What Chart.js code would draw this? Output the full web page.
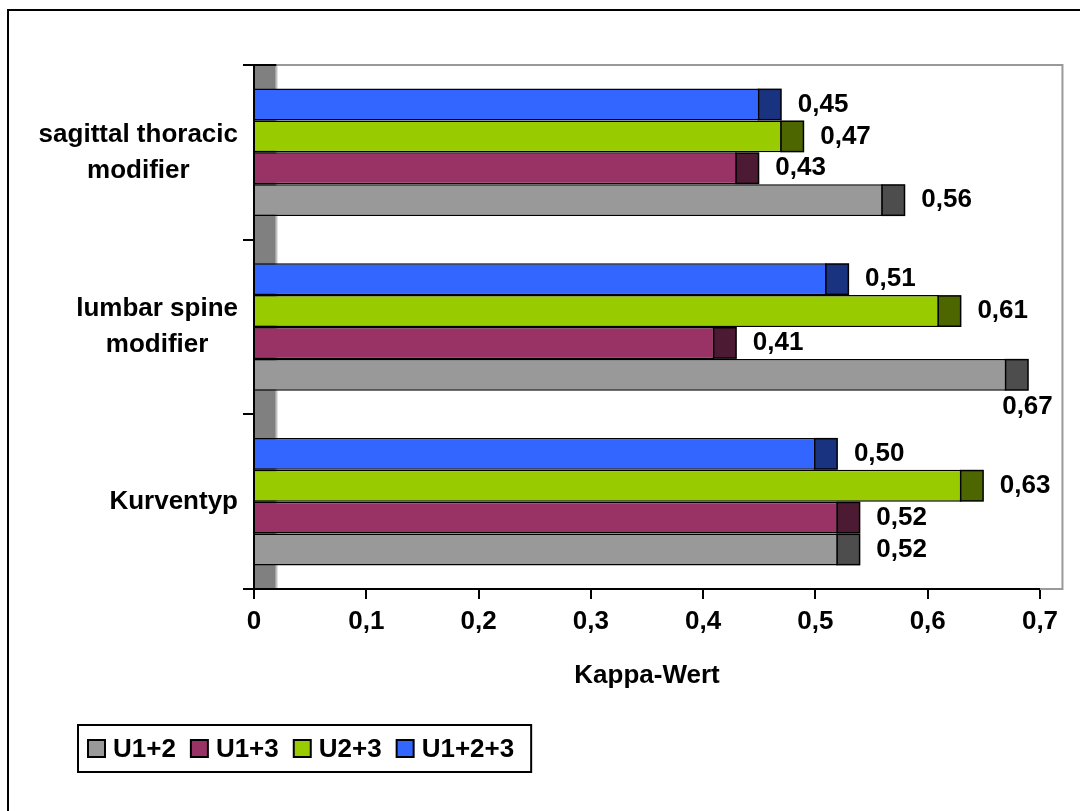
<!DOCTYPE html>
<html>
<head>
<meta charset="utf-8">
<script src="https://cdn.jsdelivr.net/npm/chart.js@4/dist/chart.umd.min.js"></script>
<style>
    html, body { margin: 0; padding: 0; background: #fff; }
    canvas { display: block; }
</style>
</head>
<body>
<canvas id="kappa-chart" width="1080" height="811"></canvas>
<script>
// categories, top to bottom (one entry per label line)
const categories = [
    ["sagittal thoracic", "modifier"],
    ["lumbar spine", "modifier"],
    ["Kurventyp"]
];

const seriesNames = ["U1+2", "U1+3", "U2+3", "U1+2+3"];

// kappa values, same order as categories
const u12 = [0.56, 0.67, 0.52];
const u13 = [0.43, 0.41, 0.52];
const u23 = [0.47, 0.61, 0.63];
const u123 = [0.45, 0.51, 0.50];

const xTicks = [0, 0.1, 0.2, 0.3, 0.4, 0.5, 0.6, 0.7];

// styles
const faceColors = ["#999999", "#993366", "#99cc00", "#3366ff"];
const sideColors = ["#4d4d4d", "#4d1a33", "#4d6600", "#1a3380"];
const DEPTH = 0.02;
const EDGE = 1.5;
const FAMILY = "'Liberation Sans', Arial, Helvetica, sans-serif";
const FONT = `bold 26px ${FAMILY}`;
const chartFont = { family: FAMILY, size: 26, weight: "bold", lineHeight: 1.2 };

function fmt(v, digits) {
    return v === 0 ? "0" : v.toFixed(digits).replace(".", ",");
}

function depthPx(chart) {
    const x = chart.scales.x;
    return x.getPixelForValue(DEPTH) - x.getPixelForValue(0);
}

const seriesValues = [u12, u13, u23, u123];

// last series is the top bar of each group
const datasets = seriesNames.map((name, i) => ({
    label: name,
    data: seriesValues[i],
    backgroundColor: faceColors[i],
    sideColor: sideColors[i],
    borderColor: "#000",
    borderWidth: EDGE,
    categoryPercentage: 0.73,
    barPercentage: 1
})).reverse();

const pseudo3d = {
    id: "pseudo3d",
    beforeDraw(chart) {
        // outer frame
        const ctx = chart.ctx;
        ctx.save();
        ctx.strokeStyle = "#000";
        ctx.lineWidth = 2;
        ctx.strokeRect(8, 10, 1300, 1000);
        ctx.restore();
    },
    beforeDatasetsDraw(chart) {
        const { ctx, chartArea: a } = chart;
        const d = depthPx(chart);
        ctx.save();
        // side wall
        ctx.fillStyle = "#808080";
        ctx.fillRect(a.left + 1, a.top, d - 1, a.bottom - a.top - 1);
        ctx.fillStyle = "#c0c0c0";
        ctx.fillRect(a.left + d - 1, a.top, 2, a.bottom - a.top - 1);
        // back wall outline
        ctx.strokeStyle = "#999999";
        ctx.lineWidth = 2;
        ctx.beginPath();
        ctx.moveTo(a.left + d, a.top);
        ctx.lineTo(a.right + d, a.top);
        ctx.lineTo(a.right + d, a.bottom);
        ctx.lineTo(a.right, a.bottom);
        ctx.stroke();
        // wall top edge
        ctx.strokeStyle = "#000";
        ctx.beginPath();
        ctx.moveTo(a.left, a.top);
        ctx.lineTo(a.left + d, a.top);
        ctx.stroke();
        ctx.restore();
    },
    afterDatasetsDraw(chart) {
        const { ctx, chartArea: a } = chart;
        const d = depthPx(chart);
        const wallX = a.right + d;
        ctx.save();
        chart.data.datasets.forEach((ds, di) => {
            const meta = chart.getDatasetMeta(di);
            meta.data.forEach((bar, i) => {
                const h = bar.height;
                const top = bar.y - h / 2;
                // side face of the bar
                ctx.fillStyle = "#000";
                ctx.fillRect(bar.x - EDGE, top, d + EDGE, h);
                ctx.fillStyle = ds.sideColor;
                ctx.fillRect(bar.x, top + EDGE, d - EDGE, h - 2 * EDGE);

                // value label
                const text = fmt(ds.data[i], 2);
                ctx.font = FONT;
                ctx.fillStyle = "#000";
                ctx.textBaseline = "middle";
                const w = ctx.measureText(text).width;
                const end = bar.x + d;
                if (end + 16 + w > wallX) {
                    ctx.textAlign = "right";
                    ctx.fillText(text, end + 24, bar.y + h);
                } else {
                    ctx.textAlign = "left";
                    ctx.fillText(text, end + 16, bar.y);
                }
            });
        });
        ctx.restore();
    },
    afterDraw(chart) {
        const ctx = chart.ctx;
        const y = chart.scales.y;
        ctx.save();
        ctx.font = FONT;
        ctx.fillStyle = "#000";
        ctx.textBaseline = "middle";
        ctx.textAlign = "center";

        // category labels: block right aligned, lines centred
        const rightEdge = y.left + y.width - 16;
        categories.forEach((lines, i) => {
            const yc = y.getPixelForTick(i);
            const widest = Math.max(...lines.map(l => ctx.measureText(l).width));
            const cx = rightEdge - widest / 2;
            lines.forEach((line, j) => {
                ctx.fillText(line, cx, yc + (j - (lines.length - 1) / 2) * 36);
            });
        });

        // legend
        const boxLeft = 78, boxTop = 725, boxHeight = 47;
        let x = boxLeft + 10;
        const midY = boxTop + boxHeight / 2;
        ctx.textAlign = "left";
        seriesNames.forEach((name, i) => {
            ctx.fillStyle = faceColors[i];
            ctx.fillRect(x, midY - 8.5, 17, 17);
            ctx.strokeStyle = "#000";
            ctx.lineWidth = 2;
            ctx.strokeRect(x, midY - 8.5, 17, 17);
            ctx.fillStyle = "#000";
            ctx.fillText(name, x + 25, midY + 1);
            x += 25 + ctx.measureText(name).width + 15;
        });
        const boxRight = x - 15 + 17;
        ctx.strokeStyle = "#000";
        ctx.lineWidth = 2;
        ctx.strokeRect(boxLeft, boxTop, boxRight - boxLeft, boxHeight);
        ctx.restore();
    }
};

const ctx = document.getElementById("kappa-chart").getContext("2d");

new Chart(ctx, {
    type: "bar",
    data: {
        labels: categories.map(c => c.join(" ")),
        datasets: datasets
    },
    options: {
        indexAxis: "y",
        responsive: false,
        animation: false,
        layout: {
            padding: { left: 0, top: 65, right: 40, bottom: 120 }
        },
        plugins: {
            legend: { display: false },
            tooltip: { enabled: false }
        },
        scales: {
            x: {
                min: 0,
                max: 0.7,
                afterBuildTicks: scale => {
                    scale.ticks = xTicks.map(v => ({ value: v }));
                },
                afterFit: scale => {
                    scale.height = 102;
                },
                grid: {
                    drawOnChartArea: false,
                    drawTicks: true,
                    tickLength: 10,
                    color: "#000",
                    lineWidth: 2
                },
                border: { color: "#000", width: 2 },
                ticks: {
                    color: "#000",
                    font: chartFont,
                    padding: 7,
                    maxRotation: 0,
                    callback: value => fmt(value, 1)
                },
                title: {
                    display: true,
                    text: "Kappa-Wert",
                    color: "#000",
                    font: chartFont,
                    padding: { top: 14, bottom: 0 }
                }
            },
            y: {
                afterFit: scale => {
                    scale.width = 254;
                },
                grid: {
                    drawOnChartArea: false,
                    drawTicks: true,
                    tickLength: 11,
                    offset: true,
                    color: "#000",
                    lineWidth: 2
                },
                border: { color: "#000", width: 2 },
                ticks: { display: false }
            }
        }
    },
    plugins: [pseudo3d]
});
</script>
</body>
</html>
